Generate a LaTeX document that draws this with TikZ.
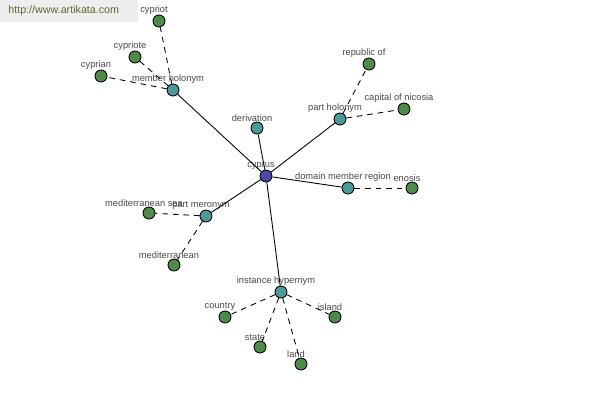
\documentclass[tikz,border=0pt]{standalone}
\usepackage{fontspec}
\setmainfont{Liberation Sans}

\definecolor{hubblue}{HTML}{4A4AA6}
\definecolor{relteal}{HTML}{4A9A9A}
\definecolor{leafgreen}{HTML}{4E8A48}
\definecolor{labelgray}{HTML}{4A4A4A}
\definecolor{markgray}{HTML}{EEEEEE}
\definecolor{markolive}{HTML}{5A6A30}

\tikzset{
    dot/.style={circle, draw=black, line width=0.5pt, inner sep=0pt, minimum size=0.24cm},
    hubnode/.style={dot, fill=hubblue},
    relnode/.style={dot, fill=relteal},
    leafnode/.style={dot, fill=leafgreen},
    lbl/.style={font=\fontsize{5.3}{6}\selectfont, text=labelgray, inner sep=0pt, xshift=-0.1cm},
    link/.style={draw=black, line width=0.5pt},
    dashlink/.style={draw=black, line width=0.5pt, dash pattern=on 3.2pt off 2.8pt}
}

\begin{document}
\begin{tikzpicture}[x=0.02cm, y=-0.02cm]
        % Page frame, 600 x 400 pixels
        \useasboundingbox[fill=white] (0,0) rectangle (600,400);

        % Site mark in the top left corner
        \fill[markgray] (0,0) rectangle (138,22);
        \node[font=\fontsize{6.1}{7}\selectfont, text=markolive, anchor=west, inner sep=0pt] (site) at (8,11) {http://www.artikata.com};

        % Centre word
        \node[hubnode, label={[lbl]above:cyprus}] (cyprus) at (266,176) {};

        % Relation nodes
        \foreach \name/\x/\y/\txt in {memberholonym/173/90/member holonym,
                derivation/257/128/derivation,
                partholonym/340/119/part holonym,
                domainregion/348/188/domain member region,
                partmeronym/206/216/part meronym,
                instancehypernym/281/292/instance hypernym}
        {
            \node[relnode, label={[lbl]above:\txt}] (\name) at (\x,\y) {};
            \draw[link] (cyprus) -- (\name);
        }

        % Leaf words, dashed to their relation
        \foreach \name/\x/\y/\txt/\parent in {cypriot/159/21/cypriot/memberholonym,
                cypriote/135/57/cypriote/memberholonym,
                cyprian/101/76/cyprian/memberholonym,
                republicof/369/64/republic of/partholonym,
                nicosia/404/109/capital of nicosia/partholonym,
                enosis/412/188/enosis/domainregion,
                medsea/149/213/mediterranean sea/partmeronym,
                mediterranean/174/265/mediterranean/partmeronym,
                country/225/317/country/instancehypernym,
                island/335/317/island/instancehypernym,
                state/260/347/state/instancehypernym,
                land/301/364/land/instancehypernym}
        {
            \node[leafnode, label={[lbl]above:\txt}] (\name) at (\x,\y) {};
            \draw[dashlink] (\parent) -- (\name);
        }
\end{tikzpicture}
\end{document}
